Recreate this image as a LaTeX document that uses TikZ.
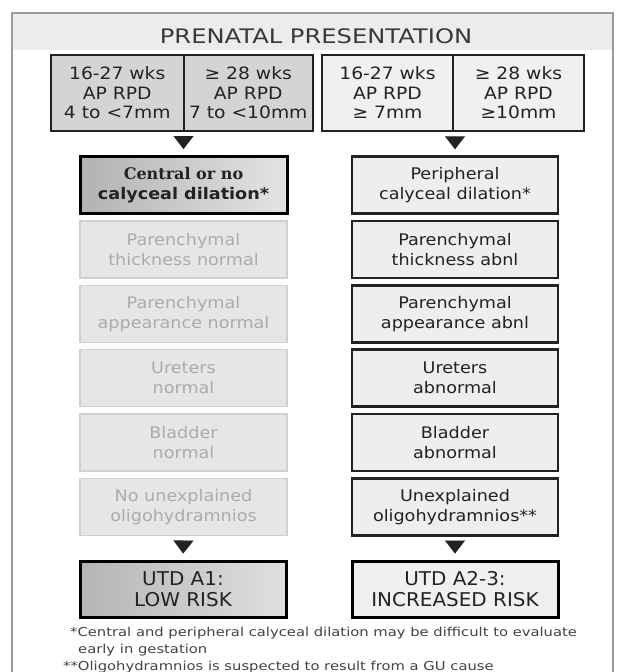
\documentclass[tikz,border=0pt]{standalone}
\usepackage{fontspec}
\setmainfont{DejaVu Sans}[FakeStretch=1.1]
\newfontfamily\titlefont{DejaVu Sans}[FakeStretch=1.21]
\newfontfamily\slabfont{DejaVu Serif}[FakeStretch=1.0]
\usetikzlibrary{arrows.meta}
\definecolor{ink}{HTML}{222222}
\definecolor{band}{HTML}{ECECEC}
\definecolor{frame}{HTML}{9A9A9A}
\definecolor{celldark}{HTML}{D4D4D4}
\definecolor{celllight}{HTML}{F0F0F0}
\definecolor{ghostfill}{HTML}{E6E6E6}
\definecolor{ghostline}{HTML}{D0D0D0}
\definecolor{ghosttext}{HTML}{ABABAB}
\definecolor{boxfill}{HTML}{EEEEEE}
\begin{document}
\begin{tikzpicture}[x=1pt,y=-1pt,
  cell/.style={draw=ink, line width=2pt, minimum height=76pt, inner sep=0pt,
    align=center, text=ink, font=\fontsize{17}{19.5}\selectfont},
  cellL/.style={cell, fill=celldark},
  cellR/.style={cell, fill=celllight},
  colbox/.style={minimum height=57pt, inner sep=0pt, align=center,
    font=\fontsize{16}{20}\selectfont},
  ghost/.style={colbox, minimum width=207pt, fill=ghostfill, draw=ghostline,
    line width=1.5pt, text=ghosttext},
  realbox/.style={colbox, minimum width=206pt, fill=boxfill, draw=ink,
    line width=2.5pt, text=ink},
  darkbox/.style={colbox, minimum width=207pt, left color=gray!60, right color=gray!22,
    draw=black, line width=3pt, text=ink},
  result/.style={minimum height=56pt, inner sep=0pt, align=center, text=ink,
    draw=black, line width=3pt, font=\fontsize{19}{21}\selectfont\addfontfeature{FakeStretch=1.05}},
  tri/.style={-{Triangle[width=20pt,length=13pt]}, ink, line width=0.01pt,
    shorten <=6pt, shorten >=6pt},
  foot/.style={anchor=base west, inner sep=0pt, text=ink!85,
    font=\fontsize{12.3}{14}\selectfont\addfontfeature{FakeStretch=1.2}}
]
\useasboundingbox (0,0) rectangle (621,672);
% frame and title band
\fill[white] (0,0) rectangle (621,672);
\fill[band] (12,13) rectangle (613,50);
\draw[frame, line width=1.2pt] (12,13) rectangle (613,690);
\node[text=ink!90, font=\titlefont\fontsize{20}{24}\selectfont] (title) at (316,36) {PRENATAL PRESENTATION};

% top criteria cells
\node[cellL, minimum width=132.5pt] (t1) at (117.25,93) {16-27 wks\\AP RPD\\4 to <7mm};
\node[cellL, minimum width=129.5pt] (t2) at (248.25,93) {≥ 28 wks\\AP RPD\\7 to <10mm};
\node[cellR, minimum width=131pt] (t3) at (387.5,93) {16-27 wks\\AP RPD\\≥ 7mm};
\node[cellR, minimum width=131pt] (t4) at (518.5,93) {≥ 28 wks\\AP RPD\\≥10mm};

% left column
\node[darkbox] (l1) at (183.5,185) {{\slabfont\bfseries Central or no}\\{\bfseries calyceal dilation*}};
\node[ghost] (l2) at (183.5,249.4) {Parenchymal\\thickness normal};
\node[ghost] (l3) at (183.5,313.8) {Parenchymal\\appearance normal};
\node[ghost] (l4) at (183.5,378.2) {Ureters\\normal};
\node[ghost] (l5) at (183.5,442.6) {Bladder\\normal};
\node[ghost] (l6) at (183.5,507) {No unexplained\\oligohydramnios};
\node[result, minimum width=206pt, left color=gray!58, right color=gray!25] (lr) at (183,589) {UTD A1:\\LOW RISK};

% right column
\node[realbox] (r1) at (455,185) {Peripheral\\calyceal dilation*};
\node[realbox] (r2) at (455,249.4) {Parenchymal\\thickness abnl};
\node[realbox] (r3) at (455,313.8) {Parenchymal\\appearance abnl};
\node[realbox] (r4) at (455,378.2) {Ureters\\abnormal};
\node[realbox] (r5) at (455,442.6) {Bladder\\abnormal};
\node[realbox] (r6) at (455,507) {Unexplained\\oligohydramnios**};
\node[result, minimum width=206pt, fill=celllight] (rr) at (455,589) {UTD A2-3:\\INCREASED RISK};

% arrows
\draw[tri] (l1.north |- t1.south) -- (l1.north);
\draw[tri] (r1.north |- t3.south) -- (r1.north);
\draw[tri] (l6.south) -- (lr.north);
\draw[tri] (r6.south) -- (rr.north);

% footnotes
\node[foot] (f1) at (70,636) {*Central and peripheral calyceal dilation may be difficult to evaluate};
\node[foot] (f2) at (78,653) {early in gestation};
\node[foot] (f3) at (63,670) {**Oligohydramnios is suspected to result from a GU cause};
\end{tikzpicture}
\end{document}
